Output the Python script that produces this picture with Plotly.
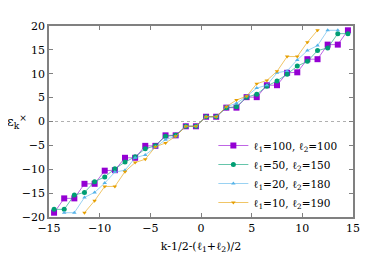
import plotly.graph_objects as go

x_vals = [-14.5 + i for i in range(30)]

eps_100_100 = [-19.1, -16.1, -16.1, -13.05, -13.05, -10.3, -10.2, -7.6, -7.6, -5.1, -5.1, -2.9, -2.9, -1.0, -1.0,
               1.0, 1.0, 2.9, 2.9, 5.1, 5.1, 7.6, 7.6, 10.2, 10.3, 13.05, 13.05, 16.1, 16.1, 19.1]
eps_50_150 = [-18.4, -18.4, -15.4, -14.85, -12.6, -11.6, -9.9, -8.5, -7.4, -5.7, -5.1, -3.1, -2.9, -1.0, -1.0,
              1.0, 1.0, 2.9, 3.1, 5.1, 5.7, 7.4, 8.5, 9.9, 11.6, 12.6, 14.85, 15.4, 18.4, 18.4]
eps_20_180 = [None, -19.1, -19.1, -15.9, -14.85, -12.9, -10.6, -10.2, -7.6, -7.0, -5.3, -3.8, -3.1, -1.0, -1.0,
              1.0, 1.0, 3.1, 3.8, 5.3, 7.0, 7.6, 10.2, 10.6, 12.9, 14.85, 15.9, 19.1, 19.1, None]
eps_10_190 = [None, None, None, -19.1, -16.6, -13.6, -13.6, -10.5, -8.6, -7.9, -5.3, -4.5, -3.1, -1.0, -1.0,
              1.0, 1.0, 3.1, 4.5, 5.3, 7.9, 8.6, 10.5, 13.6, 13.6, 16.6, 19.1, None, None, None]

names = ["ℓ<sub>1</sub>=100, ℓ<sub>2</sub>=100",
         "ℓ<sub>1</sub>=50, ℓ<sub>2</sub>=150",
         "ℓ<sub>1</sub>=20, ℓ<sub>2</sub>=180",
         "ℓ<sub>1</sub>=10, ℓ<sub>2</sub>=190"]
series = [eps_100_100, eps_50_150, eps_20_180, eps_10_190]
colors = ["#9400d3", "#009e73", "#56b4e9", "#e69f00"]
line_colors = ["rgba(148,0,211,0.6)", "rgba(0,158,115,0.6)", "rgba(86,180,233,0.6)", "rgba(230,159,0,0.6)"]
symbols = ["square", "circle", "triangle-up", "triangle-down"]
sizes = [6, 5, 4, 4]

x_ticks = [-15, -10, -5, 0, 5, 10, 15]
y_ticks = [-20, -15, -10, -5, 0, 5, 10, 15, 20]

font = "DejaVu Serif"

fig = go.Figure()
for name, ys, c, lc, s, sz in zip(names, series, colors, line_colors, symbols, sizes):
    fig.add_trace(go.Scatter(
        x=x_vals, y=ys, name=name, mode="lines+markers",
        line=dict(color=lc, width=1),
        marker=dict(color=c, symbol=s, size=sz, line=dict(width=0)),
        connectgaps=False, cliponaxis=True,
    ))

fig.add_shape(type="line", xref="paper", x0=0, x1=1, yref="y", y0=0, y1=0,
              line=dict(color="#b0b0b0", width=1, dash="dot"), layer="below")

axis_common = dict(showline=True, linecolor="#808080", linewidth=1.5, mirror="ticks",
                   ticks="inside", ticklen=4, tickcolor="#808080", showgrid=False, zeroline=False,
                   tickfont=dict(family=font, size=11, color="black"))

fig.update_xaxes(range=[-15, 15], tickvals=x_ticks, **axis_common,
                 title=dict(text="k-1/2-(ℓ<sub>1</sub>+ℓ<sub>2</sub>)/2",
                            font=dict(family=font, size=11, color="black"), standoff=8))
fig.update_yaxes(range=[-20, 20], tickvals=y_ticks, **axis_common)

fig.add_annotation(text="ε<sub>k</sub><sup>×</sup>", xref="paper", yref="paper",
                   x=-0.065, y=0.5, xanchor="right", yanchor="middle", showarrow=False,
                   font=dict(family=font, size=13, color="black"))

fig.update_layout(
    width=374, height=262,
    margin=dict(l=41, r=29, t=15, b=53),
    paper_bgcolor="white", plot_bgcolor="white",
    showlegend=True,
    legend=dict(x=0.965, y=0.0, xanchor="right", yanchor="bottom",
                bgcolor="rgba(0,0,0,0)", font=dict(family=font, size=10.5, color="black"),
                tracegroupgap=0, itemwidth=30),
    font=dict(family=font, size=11, color="black"),
)

fig.write_html("out.html")
